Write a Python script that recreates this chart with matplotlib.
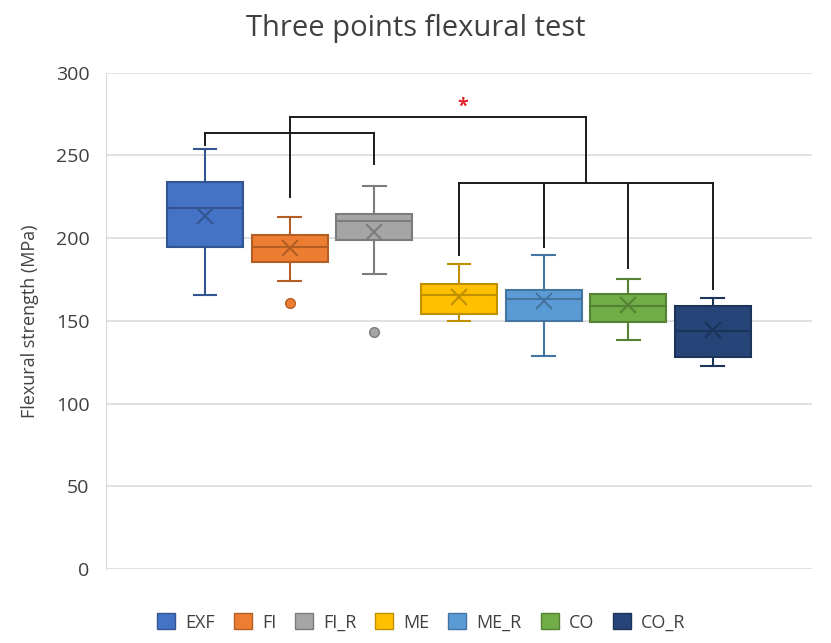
import numpy as np
import matplotlib
matplotlib.use("Agg")
import matplotlib.pyplot as plt
from matplotlib.patches import Patch
from matplotlib.colors import to_rgb

plt.rcParams['font.family'] = ['Open Sans', 'DejaVu Sans']

# box statistics (MPa)
groups = ['EXF', 'FI', 'FI_R', 'ME', 'ME_R', 'CO', 'CO_R']
whislo = [165.8, 174.1, 178.1, 149.7, 128.5, 138.2, 122.9]
q1 = [194.8, 185.7, 199.0, 154.0, 149.7, 149.1, 128.3]
med = [218.0, 194.8, 210.3, 165.8, 163.2, 159.2, 143.7]
q3 = [233.9, 201.9, 214.8, 172.1, 168.6, 166.4, 159.0]
whishi = [254.0, 212.9, 231.7, 184.5, 190.0, 175.3, 163.8]
means = [213.4, 194.0, 203.9, 164.6, 162.0, 159.5, 144.5]
outliers = [[], [161.0], [143.3], [], [], [], []]

colors = ['#4472C4', '#ED7D31', '#A5A5A5', '#FFC000', '#5B9BD5', '#70AD47', '#264478']

# significance brackets: (x positions, bar height, leg end heights)
brackets = [
    ([1, 3], 263.3, [256.3, 244.8]),
    ([2, 5.5], 273.4, [225.0, 233.1]),
    ([4, 5, 6, 7], 233.1, [189.8, 194.8, 182.1, 169.1]),
]
star_x, star_y = 4.05, 279.5


def darker(c, f=0.75):
    r, g, b = to_rgb(c)
    return (r * f, g * f, b * f)


fig = plt.figure(figsize=(8.31, 6.43), dpi=100)
ax = fig.add_axes([0.1276, 0.1151, 0.977 - 0.1276, 0.887 - 0.1151])

pos = np.arange(1, len(groups) + 1)
for i, g in enumerate(groups):
    st = [dict(label=g, whislo=whislo[i], q1=q1[i], med=med[i], q3=q3[i],
               whishi=whishi[i], mean=means[i], fliers=outliers[i])]
    dc = darker(colors[i])
    ax.bxp(st, positions=[pos[i]], widths=0.9, patch_artist=True,
           showmeans=True, showcaps=True,
           boxprops=dict(facecolor=colors[i], edgecolor=dc, linewidth=1.5),
           medianprops=dict(color=dc, linewidth=1.5),
           whiskerprops=dict(color=dc, linewidth=1.5),
           capprops=dict(color=dc, linewidth=1.5),
           capwidths=0.27,
           meanprops=dict(marker='x', markeredgecolor=dc, markersize=12,
                          markeredgewidth=1.5),
           flierprops=dict(marker='o', markerfacecolor=colors[i],
                           markeredgecolor=dc, markersize=7),
           zorder=3)

for xs, ybar, ends in brackets:
    ax.plot([xs[0], xs[-1]], [ybar, ybar], color='#1a1a1a', lw=1.4, zorder=4)
    for x, ye in zip(xs, ends):
        ax.plot([x, x], [ybar, ye], color='#1a1a1a', lw=1.4, zorder=4)
ax.text(star_x, star_y, '*', color='#E0202A', fontsize=14, ha='center',
        va='center', fontweight='bold')

ax.set_xlim(-0.17, 8.17)
ax.set_ylim(0, 300)
ax.set_yticks(np.arange(0, 301, 50))
ax.set_xticks([])
ax.yaxis.grid(True, color='#D9D9D9', lw=1.1)
ax.set_axisbelow(True)
for s in ['top', 'right', 'bottom']:
    ax.spines[s].set_visible(False)
ax.spines['left'].set_color('#D9D9D9')
ax.tick_params(axis='y', length=0, labelsize=14, labelcolor='#404040', pad=12)

ax.set_ylabel('Flexural strength (MPa)', fontsize=13, color='#404040', labelpad=12)
fig.suptitle('Three points flexural test', fontsize=21, color='#404040', y=0.978)

handles = [Patch(facecolor=c, edgecolor=darker(c)) for c in colors]
fig.legend(handles, groups, loc='center', bbox_to_anchor=(0.507, 0.032), ncol=7,
           frameon=False, fontsize=13, handlelength=1.0, handleheight=1.0,
           columnspacing=1.05, handletextpad=0.55, labelcolor='#404040')

fig.savefig('out.png', dpi=100)
